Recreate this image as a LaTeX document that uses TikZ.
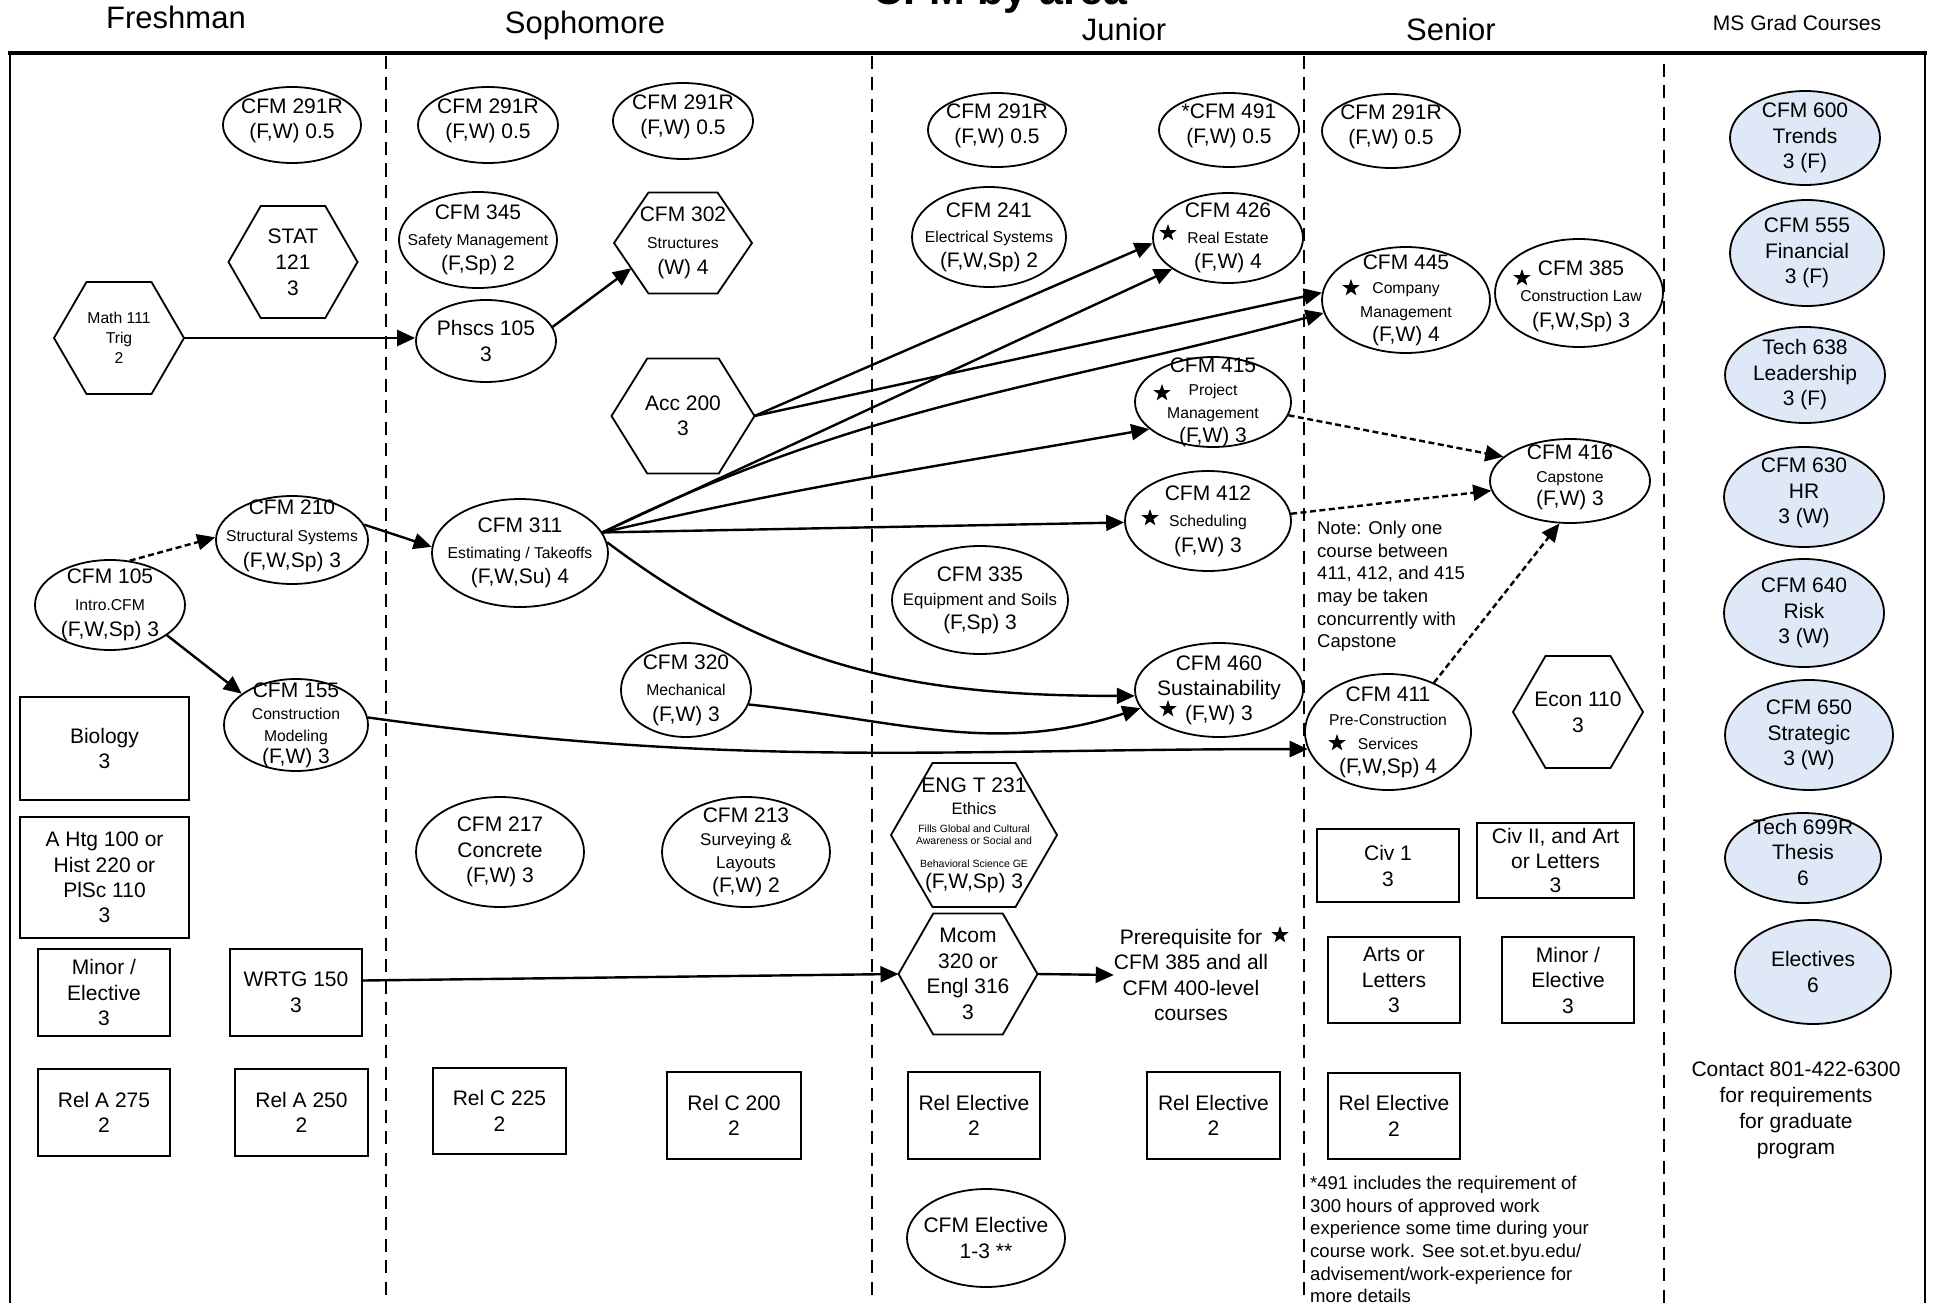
\documentclass[tikz,border=0pt]{standalone}
\usepackage{fontspec}
\setmainfont{Liberation Sans}
\usetikzlibrary{shapes.geometric,arrows.meta,calc}
\definecolor{gradfill}{RGB}{222,232,246}
\newcommand\fs[2]{\fontsize{#1}{#2}\selectfont}
\newcommand\Sm{\fs{15.7}{19}}
\newcommand\hexn[6]{%
  \node[inner sep=0pt, outer sep=0pt, minimum width=#3, minimum height=#4, label={[lbl,#5]center:{#6}}] (#1) at (#2) {};
  \draw[line width=1.8pt] (#1.west) -- ($(#1.north west)!.25!(#1.north east)$) -- ($(#1.north west)!.75!(#1.north east)$) -- (#1.east) -- ($(#1.south west)!.75!(#1.south east)$) -- ($(#1.south west)!.25!(#1.south east)$) -- cycle;}
\begin{document}
\lineskiplimit=-1000pt
\begin{tikzpicture}[x=1pt,y=-1pt,
  ov/.style={ellipse, draw, line width=1.8pt, inner sep=0pt},
  gr/.style={ov, fill=gradfill},
  bx/.style={rectangle, draw, line width=1.8pt, inner sep=0pt, align=center, font=\fs{21}{25.5}},
  lbl/.style={align=center, font=\fs{21}{25.5}, inner sep=0pt},
  con/.style={line width=2.4pt, -{Triangle[length=18pt,width=16pt]}},
  dot/.style={con, dash pattern=on 6pt off 3.5pt},
  starn/.style={star, star points=5, star point ratio=2.5, fill=black, draw=none, minimum size=18pt, inner sep=0pt},
  hdr/.style={anchor=base, font=\fs{31}{36}},
  divider/.style={line width=1.8pt, dash pattern=on 13pt off 8.5pt},
  txt/.style={inner sep=0pt}]
\useasboundingbox (0,0) rectangle (1933,1303);
\clip (0,0) rectangle (1933,1303);

% title (cut off at the top edge, as in the reference) and headers
\node[anchor=base, font=\bfseries\fs{43}{50}] (title) at (1000,5) {CFM by area};
\node[hdr] (hfr) at (176,29) {Freshman};
\node[hdr] (hso) at (585,34) {Sophomore};
\node[hdr] (hju) at (1124,41) {Junior};
\node[hdr] (hse) at (1451,41) {Senior};
\node[anchor=base, font=\fs{21}{25}] (hms) at (1797,31) {MS Grad Courses};

% frame and dividers
\draw[line width=2.5pt] (10,1330) -- (10,53) -- (1925,53) -- (1925,1330);
\draw[line width=3.2pt] (8,53) -- (1927,53);
\draw[divider] (386,56) -- (386,1310);
\draw[divider] (872,56) -- (872,1310);
\draw[divider] (1304,56) -- (1304,1310);
\draw[divider] (1664,64) -- (1664,1310);

% ---------------- Freshman
\node[ov, minimum width=138, minimum height=76, label={[lbl,yshift=4pt]center:{CFM 291R\\(F,W) 0.5}}] (f291) at (292,125) {};
\hexn{stat}{293,262}{129}{112}{font=\fs{21}{26}}{STAT\\121\\3}
\hexn{math}{119,338}{130}{112}{font=\fs{15.7}{20}}{Math 111\\Trig\\2}
\node[ov, minimum width=150, minimum height=90, label={[lbl,font=\fs{21}{26.5}]center:{CFM 105\\{\Sm Intro.CFM}\\(F,W,Sp) 3}}] (c105) at (110,605) {};
\node[ov, minimum width=152, minimum height=88, label={[lbl,font=\fs{21}{26.5},yshift=4pt]center:{CFM 210\\{\Sm Structural Systems}\\(F,W,Sp) 3}}] (c210) at (292,540) {};
\node[ov, minimum width=144, minimum height=92, label={[lbl,font=\fs{21}{22}]center:{CFM 155\\{\Sm Construction}\\{\Sm Modeling}\\(F,W) 3}}] (c155) at (296,725) {};
\node[bx, minimum width=169, minimum height=103] (bio) at (104.5,748.5) {Biology\\3};
\node[bx, minimum width=169, minimum height=121, font=\fs{21}{25.3}] (ahtg) at (104.5,877.5) {A Htg 100 or\\Hist 220 or\\PlSc 110\\3};
\node[bx, minimum width=132, minimum height=87] (fmin) at (104,992.5) {Minor /\\Elective\\3};
\node[bx, minimum width=132, minimum height=87] (wrtg) at (296,992.5) {WRTG 150\\3};
\node[bx, minimum width=132, minimum height=87] (rela275) at (104,1112.5) {Rel A 275\\2};
\node[bx, minimum width=133, minimum height=87] (rela250) at (301.5,1112.5) {Rel A 250\\2};

% ---------------- Sophomore
\node[ov, minimum width=140, minimum height=76, label={[lbl,yshift=4pt]center:{CFM 291R\\(F,W) 0.5}}] (s291a) at (488,125) {};
\node[ov, minimum width=140, minimum height=76, label={[lbl,yshift=4pt]center:{CFM 291R\\(F,W) 0.5}}] (s291b) at (683,121) {};
\node[ov, minimum width=158, minimum height=96, label={[lbl]center:{CFM 345\\{\Sm Safety Management}\\(F,Sp) 2}}] (c345) at (478,240) {};
\node[ov, minimum width=140, minimum height=82, label={[lbl,font=\fs{21}{26}]center:{Phscs 105\\3}}] (phs) at (486,341) {};
\node[ov, minimum width=176, minimum height=108, label={[lbl]center:{CFM 311\\{\Sm Estimating / Takeoffs}\\(F,W,Su) 4}}] (c311) at (520,553) {};
\node[ov, minimum width=168, minimum height=110, label={[lbl]center:{CFM 217\\Concrete\\(F,W) 3}}] (c217) at (500,852) {};
\node[bx, minimum width=133, minimum height=86] (relc225) at (499.5,1111) {Rel C 225\\2};
\hexn{c302}{683,243}{138}{101}{font=\fs{21}{26.5}}{CFM 302\\{\Sm Structures}\\(W) 4}
\hexn{acc}{683,416}{143}{115}{}{Acc 200\\3}
\node[ov, minimum width=130, minimum height=94, label={[lbl,font=\fs{21}{26}]center:{CFM 320\\{\Sm Mechanical}\\(F,W) 3}}] (c320) at (686,690) {};
\node[ov, minimum width=168, minimum height=110, label={[lbl,font=\fs{21}{23.3}]center:{CFM 213\\{\fs{17}{20}Surveying \&}\\{\fs{17}{20}Layouts}\\(F,W) 2}}] (c213) at (746,852) {};
\node[bx, minimum width=134, minimum height=87] (relc200) at (734,1115.5) {Rel C 200\\2};

% ---------------- Junior
\node[ov, minimum width=138, minimum height=74, label={[lbl,yshift=4pt]center:{CFM 291R\\(F,W) 0.5}}] (j291) at (997,130) {};
\node[ov, minimum width=154, minimum height=100, label={[lbl,font=\fs{21}{25}]center:{CFM 241\\{\Sm Electrical Systems}\\(F,W,Sp) 2}}] (c241) at (989,237) {};
\node[ov, minimum width=176, minimum height=108, label={[lbl,font=\fs{21}{24}]center:{CFM 335\\{\fs{16.8}{20}Equipment and Soils}\\(F,Sp) 3}}] (c335) at (980,600) {};
\hexn{eng}{974,835}{166}{144}{font=\fs{10.5}{12}}{{\fs{21}{12}ENG T 231}\\[10pt]{\fs{16.5}{12}Ethics}\\[6pt]Fills Global and Cultural\\Awareness or Social and\\[11pt]Behavioral Science GE\\[9pt]{\fs{21}{12}(F,W,Sp) 3}}
\hexn{mcom}{968,974}{139}{121}{font=\fs{21}{25.6}}{Mcom\\320 or\\Engl 316\\3}
\node[bx, minimum width=132, minimum height=87] (relj1) at (974,1115.5) {Rel Elective\\2};
\node[bx, minimum width=133, minimum height=87] (relj2) at (1213.5,1115.5) {Rel Elective\\2};
\node[ov, minimum width=158, minimum height=98, label={[lbl,font=\fs{21}{26}]center:{CFM Elective\\1-3 **}}] (cfmel) at (986,1238) {};
\node[ov, minimum width=140, minimum height=74, label={[lbl,yshift=4pt]center:{*CFM 491\\(F,W) 0.5}}] (c491) at (1229,130) {};
\node[ov, minimum width=150, minimum height=90, label={[lbl]center:{CFM 426\\{\Sm Real Estate}\\(F,W) 4}}] (c426) at (1228,238) {};
\node[ov, minimum width=156, minimum height=90, label={[lbl,font=\fs{21}{23.3}]center:{CFM 415\\{\Sm Project}\\{\Sm Management}\\(F,W) 3}}] (c415) at (1213,402) {};
\node[ov, minimum width=166, minimum height=100, label={[lbl,font=\fs{21}{26}]center:{CFM 412\\{\Sm Scheduling}\\(F,W) 3}}] (c412) at (1208,521) {};
\node[ov, minimum width=168, minimum height=94, label={[lbl,font=\fs{21}{25}]center:{CFM 460\\Sustainability\\(F,W) 3}}] (c460) at (1219,690) {};
\node[txt, align=center, font=\fs{21}{25.6}] (prq) at (1191,975) {Prerequisite for\\CFM 385 and all\\CFM 400-level\\courses};

% ---------------- Senior
\node[ov, minimum width=138, minimum height=74, label={[lbl,yshift=4pt]center:{CFM 291R\\(F,W) 0.5}}] (s291) at (1391,131) {};
\node[ov, minimum width=168, minimum height=106, label={[lbl,font=\fs{21}{24}]center:{CFM 445\\{\Sm Company}\\{\Sm Management}\\(F,W) 4}}] (c445) at (1406,300) {};
\node[ov, minimum width=168, minimum height=108, label={[lbl,font=\fs{21}{26},yshift=-3pt,xshift=2pt]center:{CFM 385\\{\Sm Construction Law}\\(F,W,Sp) 3}}] (c385) at (1579,293) {};
\node[ov, minimum width=160, minimum height=84, label={[lbl,font=\fs{21}{23},yshift=4pt]center:{CFM 416\\{\Sm Capstone}\\(F,W) 3}}] (c416) at (1570,481) {};
\node[txt, anchor=north west, align=left, font=\fs{18.5}{22.6}] (note) at (1317,521) {Note: Only one\\course between\\411, 412, and 415\\may be taken\\concurrently with\\Capstone};
\node[ov, minimum width=166, minimum height=116, label={[lbl,font=\fs{21}{24}]center:{CFM 411\\{\Sm Pre-Construction}\\{\Sm Services}\\(F,W,Sp) 4}}] (c411) at (1388,732) {};
\hexn{econ}{1578,712}{130}{112}{font=\fs{21}{26}}{Econ 110\\3}
\node[bx, minimum width=142, minimum height=73, font=\fs{21}{26}] (civ1) at (1388,865.5) {Civ 1\\3};
\node[bx, minimum width=157, minimum height=75, font=\fs{21}{24.5}] (civ2) at (1555.5,860.5) {Civ II, and Art\\or Letters\\3};
\node[bx, minimum width=132, minimum height=86] (arts) at (1394,980) {Arts or\\Letters\\3};
\node[bx, minimum width=132, minimum height=86] (smin) at (1568,980) {Minor /\\Elective\\3};
\node[bx, minimum width=132, minimum height=86] (srel) at (1394,1116) {Rel Elective\\2};
\node[txt, anchor=north west, align=left, font=\fs{18.5}{22.6}] (foot) at (1310,1176) {*491 includes the requirement of\\300 hours of approved work\\experience some time during your\\course work. See sot.et.byu.edu/\\advisement/work-experience for\\more details};

% ---------------- Grad
\node[gr, minimum width=150, minimum height=94, label={[lbl]center:{CFM 600\\Trends\\3 (F)}}] (g600) at (1805,138) {};
\node[gr, minimum width=154, minimum height=106, label={[lbl]center:{CFM 555\\Financial\\3 (F)}}] (g555) at (1807,253) {};
\node[gr, minimum width=160, minimum height=96, label={[lbl]center:{Tech 638\\Leadership\\3 (F)}}] (g638) at (1805,375) {};
\node[gr, minimum width=160, minimum height=100, label={[lbl,yshift=4pt]center:{CFM 630\\HR\\3 (W)}}] (g630) at (1804,497) {};
\node[gr, minimum width=160, minimum height=108, label={[lbl]center:{CFM 640\\Risk\\3 (W)}}] (g640) at (1804,613) {};
\node[gr, minimum width=168, minimum height=110, label={[lbl]center:{CFM 650\\Strategic\\3 (W)}}] (g650) at (1809,735) {};
\node[gr, minimum width=156, minimum height=90, label={[lbl,yshift=6pt]center:{Tech 699R\\Thesis\\6}}] (g699) at (1803,858) {};
\node[gr, minimum width=156, minimum height=104, label={[lbl,font=\fs{21}{26}]center:{Electives\\6}}] (gel) at (1813,972) {};
\node[txt, align=center, font=\fs{21}{26}] (contact) at (1796,1110) {Contact 801-422-6300\\for requirements\\for graduate\\program};

% stars
\node[starn] (st426) at (1168,233) {};
\node[starn] (st415) at (1162,393) {};
\node[starn] (st412) at (1150,518) {};
\node[starn] (st460) at (1168,709) {};
\node[starn] (st445) at (1351,288) {};
\node[starn] (st385) at (1522,278) {};
\node[starn] (st411) at (1337,743) {};
\node[starn] (stprq) at (1280,935) {};

% ---------------- connectors
\coordinate (c302bl) at ($(c302.south west)!.25!(c302.south east)$);
\draw[con] (math.east) -- (math.east -| phs.west);
\draw[con] (phs.12) -- ($(c302.west)!.5!(c302bl)$);
\draw[dot] (c105.66) -- (c210.178);
\draw[con] (c105.332) -- (c155.150);
\draw[con] (c210.12) -- (c311.176);
\draw[con] (c155.6) to[out=-8, in=180] (c411.192);
\draw[con] (c311.14) -- (c426.209);
\draw[con] (c311.14) to[out=26, in=195] (c445.189);
\draw[con] (c311.14) to[out=13, in=190] (c415.203);
\draw[con] (c311.14) -- (c412.181);
\draw[con] (c311.7) to[out=-37, in=180] (c460.184);
\draw[con] (acc.east) -- (c426.184);
\draw[con] (acc.east) -- (c445.175);
\draw[con] (c320.347) to[out=-6, in=198] (c460.193);
\draw[con] ([yshift=12pt]wrtg.east) -- (mcom.west);
\draw[con] (mcom.east) -- (prq.west);
\draw[dot] (c415.350) -- (c416.160);
\draw[dot] (c412.5) -- (c416.187);
\draw[dot] (c411.47) -- (c416.256);
\end{tikzpicture}
\end{document}
